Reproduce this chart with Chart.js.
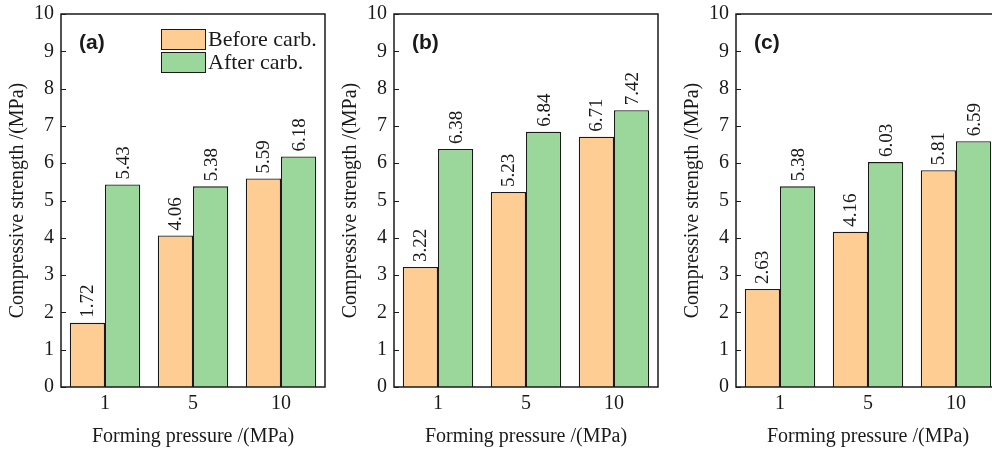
<!DOCTYPE html>
<html lang="en">
<head>
  <meta charset="UTF-8">
  <title>Compressive strength vs forming pressure</title>
  <script src="https://cdn.jsdelivr.net/npm/chart.js"></script>
  <style>
    html, body { margin: 0; padding: 0; background: #fff; overflow: hidden; width: 992px; height: 453px; }
    .panel { position: absolute; top: 0; }
  </style>
</head>
<body>
  <div class="panel" style="left:0px"><canvas id="chartA" width="330" height="453"></canvas></div>
  <div class="panel" style="left:333px"><canvas id="chartB" width="330" height="453"></canvas></div>
  <div class="panel" style="left:675px"><canvas id="chartC" width="330" height="453"></canvas></div>
  <script>
    // data
    const pressures = ['1', '5', '10'];
    const seriesNames = ['Before carb.', 'After carb.'];
    const beforeA = [1.72, 4.06, 5.59];
    const afterA  = [5.43, 5.38, 6.18];
    const beforeB = [3.22, 5.23, 6.71];
    const afterB  = [6.38, 6.84, 7.42];
    const beforeC = [2.63, 4.16, 5.81];
    const afterC  = [5.38, 6.03, 6.59];
    const yTicks = [0, 1, 2, 3, 4, 5, 6, 7, 8, 9, 10];

    const serif = 'Liberation Serif';
    const ink = '#1a1a1a';
    const orange = '#FECD93';
    const green = '#9BD69B';

    // frame + inward y ticks
    const framePlugin = {
      id: 'frame',
      afterDraw(chart) {
        const { ctx, chartArea: a, scales: { y } } = chart;
        ctx.save();
        ctx.strokeStyle = ink;
        ctx.lineWidth = 1.5;
        ctx.strokeRect(a.left, a.top, a.right - a.left, a.bottom - a.top);
        ctx.beginPath();
        yTicks.forEach(v => {
          const py = Math.round(y.getPixelForValue(v)) + 0.5;
          ctx.moveTo(a.left, py);
          ctx.lineTo(a.left + 5, py);
        });
        ctx.lineWidth = 1.2;
        ctx.stroke();
        ctx.restore();
      }
    };

    // vertical value labels above bars
    const valuePlugin = {
      id: 'values',
      afterDatasetsDraw(chart) {
        const { ctx } = chart;
        ctx.save();
        ctx.font = '19px "' + serif + '"';
        ctx.fillStyle = ink;
        ctx.textAlign = 'left';
        ctx.textBaseline = 'middle';
        chart.data.datasets.forEach((ds, i) => {
          chart.getDatasetMeta(i).data.forEach((bar, j) => {
            ctx.save();
            ctx.translate(bar.x + 1, bar.y - 5);
            ctx.rotate(-Math.PI / 2);
            ctx.fillText(ds.data[j].toFixed(2), 0, 0);
            ctx.restore();
          });
        });
        ctx.restore();
      }
    };

    // panel letter
    const letterPlugin = {
      id: 'letter',
      afterDraw(chart, args, opts) {
        const { ctx, chartArea: a } = chart;
        ctx.save();
        ctx.font = 'bold 21px "Liberation Sans"';
        ctx.fillStyle = ink;
        ctx.textAlign = 'left';
        ctx.textBaseline = 'middle';
        ctx.fillText(opts.text, a.left + 18, a.top + 29);
        ctx.restore();
      }
    };

    // legend inside plot (panel a only)
    const boxLegend = {
      id: 'boxLegend',
      afterDraw(chart, args, opts) {
        if (!opts.show) return;
        const { ctx, chartArea: a } = chart;
        ctx.save();
        ctx.font = '22px "' + serif + '"';
        ctx.textAlign = 'left';
        ctx.textBaseline = 'middle';
        chart.data.datasets.forEach((ds, i) => {
          const x = a.left + 100, yy = a.top + 15 + i * 23;
          ctx.fillStyle = ds.backgroundColor;
          ctx.fillRect(x, yy, 44, 20);
          ctx.strokeStyle = ink;
          ctx.lineWidth = 1;
          ctx.strokeRect(x + 0.5, yy + 0.5, 44, 20);
          ctx.fillStyle = ink;
          ctx.fillText(ds.label, x + 47, yy + 11);
        });
        ctx.restore();
      }
    };

    function makeChart(id, before, after, letter, showLegend) {
      const font = { family: serif, size: 20 };
      return new Chart(document.getElementById(id), {
        type: 'bar',
        data: {
          labels: pressures,
          datasets: [
            { label: seriesNames[0], data: before, backgroundColor: orange, borderColor: ink, borderWidth: 1.3 },
            { label: seriesNames[1], data: after, backgroundColor: green, borderColor: ink, borderWidth: 1.3 }
          ]
        },
        options: {
          responsive: false,
          animation: false,
          devicePixelRatio: 1,
          layout: { padding: { left: 6, top: 14, right: 5, bottom: 4 } },
          datasets: { bar: { categoryPercentage: 0.8, barPercentage: 1.0 } },
          plugins: {
            legend: { display: false },
            tooltip: { enabled: false },
            letter: { text: letter },
            boxLegend: { show: showLegend }
          },
          scales: {
            x: {
              grid: { display: false, drawTicks: false },
              border: { display: false },
              ticks: { color: ink, font, padding: 5 },
              title: { display: true, text: 'Forming pressure /(MPa)', color: ink, font, padding: { top: 4, bottom: 0 } }
            },
            y: {
              min: 0,
              max: 10,
              grid: { display: false, drawTicks: true, tickLength: 3 },
              border: { display: false },
              ticks: { stepSize: 1, color: ink, font: { family: serif, size: 20, lineHeight: 1 }, padding: 4 },
              title: { display: true, text: 'Compressive strength /(MPa)', color: ink, font, padding: { top: 0, bottom: 0 } }
            }
          }
        },
        plugins: [framePlugin, valuePlugin, letterPlugin, boxLegend]
      });
    }

    makeChart('chartA', beforeA, afterA, '(a)', true);
    makeChart('chartB', beforeB, afterB, '(b)', false);
    makeChart('chartC', beforeC, afterC, '(c)', false);
  </script>
</body>
</html>
